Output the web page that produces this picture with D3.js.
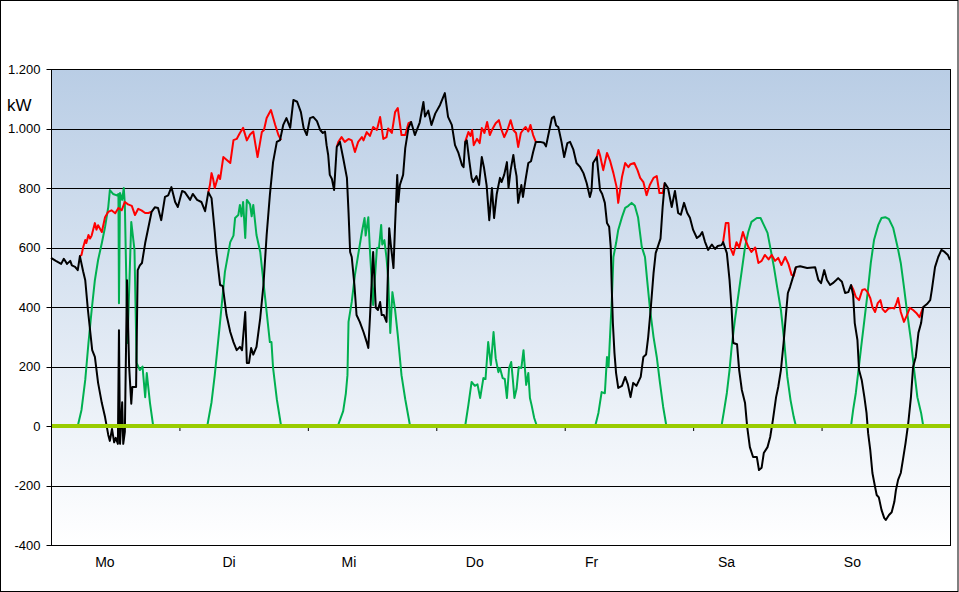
<!DOCTYPE html>
<html><head><meta charset="utf-8">
<script src="https://cdn.jsdelivr.net/npm/d3@7/dist/d3.min.js"></script>
<style>body{margin:0;background:#fff}svg{display:block;font-family:"Liberation Sans",Arial,sans-serif}</style>
</head><body><svg id="c" width="959" height="592"></svg>
<script>
// time in hours from Monday 00:00, value in kW
const dayLabels = ["Mo","Di","Mi","Do","Fr","Sa","So"];
const dayLabelPos = [0.42,1.386,2.32,3.30,4.21,5.26,6.24]; // in days
const yTicks = [-400,-200,0,200,400,600,800,1000,1200];

const netHours = [0,0.9,1.9,2.4,3.0,3.6,3.9,4.5,5.0,5.4,6.0,6.4,6.9,7.7,8.2,8.8,9.5,10.1,10.7,11.0,11.4,11.8,12.1,12.5,12.7,12.9,13.3,13.5,13.8,14.2,14.6,15.0,15.2,15.9,16.2,16.6,17.0,17.6,18.1,18.8,19.4,20.0,20.6,21.3,21.9,22.5,23.2,23.7,24.5,25.0,26.0,26.5,27.3,28.1,28.8,29.4,30.0,30.6,30.9,31.6,32.1,32.8,33.5,34.1,34.7,35.3,35.7,36.3,36.6,37.0,37.4,37.8,38.4,39.1,39.7,40.3,40.9,41.5,42.2,42.8,43.4,44.0,44.7,45.3,46.0,46.7,47.2,47.8,48.4,49.0,49.7,50.3,50.8,51.2,51.5,51.8,52.1,52.5,52.9,53.4,54.0,54.6,55.3,55.6,55.9,56.2,56.7,57.1,57.7,58.4,59.0,59.3,59.6,60.2,60.7,61.1,61.5,61.8,62.2,62.7,63.2,63.5,64.0,64.3,64.7,64.9,65.2,65.8,66.2,66.8,67.3,68.0,68.9,69.6,69.9,70.5,71.1,71.8,72.7,73.6,74.2,74.9,75.5,76.1,76.8,77.1,77.4,77.7,78.2,78.6,78.9,79.5,80.0,80.5,80.9,81.4,81.9,82.4,82.8,83.3,83.9,84.2,84.7,85.2,85.5,85.9,86.4,86.7,87.0,87.3,87.9,88.2,88.7,89.2,89.7,90.1,90.6,91.4,92.1,92.5,92.9,93.6,94.0,94.4,94.8,95.4,95.9,96.5,97.0,97.6,98.2,98.9,99.5,100.1,100.7,101.0,101.3,102.0,102.6,103.0,103.5,103.9,104.3,104.6,104.8,105.0,105.3,105.6,106.0,106.7,107.3,107.8,108.3,108.8,109.4,110.2,110.7,111.2,111.6,112.1,112.6,113.0,113.5,113.9,114.3,114.7,115.3,116.0,116.6,117.2,117.7,118.3,118.9,119.4,120.0,120.7,121.3,121.7,122.2,122.8,123.5,124.1,124.6,125.3,125.6,126.3,126.8,127.2,127.5,128.2,128.6,129.1,129.7,130.1,130.6,131.2,131.9,132.3,132.8,133.2,133.9,134.4,134.9,135.5,135.9,136.4,136.9,137.3,137.7,138.1,138.6,139.2,140.0,141.3,142.8,143.4,143.9,144.5,145.0,145.6,146.1,146.7,147.1,147.8,148.4,149.0,149.5,149.9,150.2,150.7,151.0,151.5,152.0,152.4,152.7,153.1,153.5,154.0,154.3,154.7,155.2,155.7,156.0,156.6,157.1,157.6,157.9,158.3,158.8,159.2,159.7,160.2,160.7,161.1,161.6,162.1,162.6,163.0,163.7,164.3,164.6,165.2,165.8,166.4,167.0,167.6,168.0];
const netKW = [565,555,545,562,545,555,540,535,524,571,520,490,390,255,232,145,77,30,-30,-50,-10,-55,-40,-60,322,-60,80,-60,-20,490,200,75,131,131,524,540,548,615,659,720,735,733,692,770,775,803,753,736,790,786,760,780,760,753,722,786,766,652,585,474,470,373,316,282,255,266,255,383,212,212,262,240,266,363,474,642,776,887,955,961,1012,1035,1002,1096,1090,1055,1002,978,1035,1039,1025,995,985,990,944,911,844,830,793,938,955,901,834,719,585,568,474,373,350,316,282,262,363,585,397,390,417,373,373,350,665,610,531,676,844,753,810,844,934,1002,1022,978,1020,1089,1040,1060,1012,1050,1079,1119,1039,1012,944,920,877,870,955,960,887,834,820,840,810,904,870,810,692,800,699,780,834,820,845,887,800,860,911,870,840,750,810,770,830,884,890,921,955,955,952,940,975,1035,1040,1010,1005,955,904,951,955,930,884,870,850,817,770,790,884,904,793,780,750,682,670,602,457,346,245,178,128,135,165,140,97,145,135,165,232,240,299,400,514,581,608,630,736,817,800,736,790,716,710,750,716,700,659,632,640,652,620,592,610,595,605,608,618,581,491,390,279,275,188,121,77,-3,-71,-104,-104,-148,-140,-91,-71,-37,20,97,131,188,279,366,447,467,497,534,537,531,534,491,480,524,491,474,480,490,497,485,447,450,474,440,346,289,188,155,97,44,-24,-81,-158,-205,-232,-240,-282,-309,-316,-299,-290,-255,-215,-181,-158,-114,-57,10,97,198,232,313,346,400,410,423,457,534,568,592,585,575,558];

// total consumption, only where it differs from the net line (null = gap)
const loadHours = [5.4,5.7,6.0,6.4,6.6,7.0,7.3,7.6,8.2,8.5,8.8,9.5,10.1,10.7,11.3,12.0,12.6,13.2,13.8,14.4,15.1,15.7,16.3,16.9,17.6,18.2,18.8,null,
29.4,29.7,30.0,30.3,30.6,31.3,31.6,32.2,32.8,33.5,34.1,34.7,35.3,35.9,36.6,37.2,37.8,38.6,39.4,39.8,40.3,41.1,41.9,42.5,43.0,null,
53.4,53.7,54.3,54.9,55.6,56.2,56.8,57.4,58.1,58.4,59.0,59.6,60.2,60.9,61.5,62.1,62.7,63.0,63.7,64.3,64.8,65.5,66.2,66.8,67.3,null,
77.4,78.0,78.4,78.7,79.0,79.6,80.1,80.5,81.0,81.5,82.0,82.4,83.1,83.7,84.2,84.7,85.3,85.9,86.4,86.9,87.3,87.8,88.2,88.7,89.2,89.6,90.1,90.6,null,
102.0,102.3,102.6,103.2,103.9,104.5,105.1,105.7,106.0,106.7,107.3,107.9,108.3,109.0,109.6,110.1,110.7,111.3,111.9,112.6,113.2,113.7,114.3,114.7,null,
125.6,126.1,126.6,126.9,127.5,128.1,128.6,129.3,129.7,130.3,130.9,131.6,132.2,132.8,133.4,134.1,134.7,135.3,135.9,136.5,137.2,137.8,138.4,138.8,139.2,null,
149.5,149.9,150.4,151.0,151.6,152.1,152.6,153.1,153.5,154.0,154.5,155.0,155.4,155.9,156.5,157.1,157.6,158.0,158.3,158.8,159.4,159.9,160.5,161.1,161.7,162.3,163.0];
const loadKW = [571,575,600,625,615,642,630,640,682,660,675,652,702,720,725,715,733,725,753,745,740,709,730,725,716,716,720,null,
786,810,850,830,800,843,830,904,895,884,961,965,985,1002,960,980,990,904,988,995,1035,1062,1012,978,961,null,
938,955,971,955,965,960,921,955,971,960,988,975,1005,995,1039,965,971,1000,985,1055,1069,978,978,1018,1022,null,
955,988,975,995,944,965,951,1002,985,1022,978,995,1018,1028,995,971,995,1028,995,985,938,985,995,1005,990,1012,978,955,null,
904,928,910,860,918,890,850,803,750,837,884,870,880,884,860,834,820,776,810,834,840,783,783,817,null,
618,682,682,602,575,618,600,652,630,602,585,600,548,555,575,560,575,555,565,541,568,545,508,505,534,null,
474,460,434,423,457,460,450,430,400,383,413,423,393,383,395,397,395,413,430,383,350,370,397,390,380,366,400];

// PV generation
const pvHours = [0,5.0,5.7,6.4,7.0,7.6,8.2,8.8,9.5,10.1,10.7,11.0,11.6,12.3,12.6,12.7,12.9,13.3,13.6,13.8,14.3,15.0,15.6,16.0,16.6,17.1,17.6,17.9,18.5,19.1,
29.2,30.0,30.6,31.6,32.5,33.5,34.1,34.4,35.0,35.3,35.6,35.9,36.3,36.6,37.2,37.5,37.8,38.4,39.1,39.7,40.3,40.9,41.2,41.5,42.2,43.0,
53.6,54.6,55.1,55.4,55.6,56.2,56.8,57.4,58.1,58.6,58.8,59.3,59.6,60.2,60.9,61.3,61.7,61.9,62.3,62.7,63.0,63.4,63.8,64.3,64.8,65.5,66.2,67.1,
77.4,78.0,78.6,79.2,79.7,80.2,80.8,81.2,81.7,82.2,82.7,83.1,83.6,83.9,84.4,84.8,85.2,85.6,86.0,86.3,86.6,87.0,87.4,87.9,88.3,88.8,89.2,89.5,89.8,90.3,90.8,
101.7,102.3,102.9,103.5,103.9,104.2,104.5,104.8,105.1,105.6,106.0,106.7,107.3,107.9,108.5,109.1,109.7,110.4,111.0,111.4,111.9,112.6,113.2,113.8,114.4,115.0,
125.3,125.8,126.3,126.8,127.2,127.8,128.5,129.1,129.7,130.3,130.9,131.9,132.6,133.2,133.9,134.5,135.1,135.7,136.4,137.0,137.6,138.2,138.8,139.2,
149.5,149.9,150.4,150.9,151.4,152.0,152.6,153.2,153.8,154.6,155.2,155.9,156.6,157.4,158.2,158.8,159.4,160.0,160.7,161.3,161.9,162.6,163.0,168];
const pvKW = [0,0,54,155,279,390,490,558,615,669,736,793,780,775,780,413,783,760,800,745,279,686,592,212,188,200,97,178,77,0,
0,80,171,350,518,618,640,699,709,743,705,753,632,760,745,705,743,642,585,484,383,282,282,195,90,0,
0,50,110,171,350,417,508,575,652,699,640,702,590,407,598,600,676,610,625,565,500,313,450,390,306,171,90,0,
0,71,148,135,140,94,161,158,282,205,316,228,181,195,161,158,94,195,215,158,94,125,198,195,255,138,178,94,71,27,0,
0,44,114,110,232,200,313,423,568,615,659,702,733,740,750,740,702,602,568,491,400,299,232,145,64,0,
0,54,111,188,266,356,447,524,602,652,686,699,699,676,649,592,534,467,390,289,165,87,30,0,
0,54,111,188,266,356,447,548,625,676,699,702,695,665,602,548,467,380,289,188,97,44,0,0];

const W = 959, H = 592;
const m = {left: 51, right: 950, top: 69, bottom: 545};
const svg = d3.select("#c");

const x = d3.scaleLinear().domain([0, 168]).range([m.left, m.right]);
const y = d3.scaleLinear().domain([-400, 1200]).range([m.bottom, m.top]);

// outer frame
svg.append("rect").attr("x", 0.5).attr("y", 0.5).attr("width", W - 1.5).attr("height", H - 1)
  .attr("fill", "#fff").attr("stroke", "#000").attr("stroke-width", 1);

// plot background gradient
const defs = svg.append("defs");
const grad = defs.append("linearGradient").attr("id", "bg").attr("x1", 0).attr("y1", 0).attr("x2", 0).attr("y2", 1);
grad.append("stop").attr("offset", "0%").attr("stop-color", "#b9cde5");
grad.append("stop").attr("offset", "100%").attr("stop-color", "#ffffff");
svg.append("rect").attr("x", m.left).attr("y", m.top).attr("width", m.right - m.left).attr("height", m.bottom - m.top)
  .attr("fill", "url(#bg)");

// gridlines
svg.append("g").selectAll("line").data(yTicks.filter(v => v !== 0)).join("line")
  .attr("x1", m.left).attr("x2", m.right)
  .attr("y1", d => Math.round(y(d)) + 0.5).attr("y2", d => Math.round(y(d)) + 0.5)
  .attr("stroke", "#000").attr("stroke-width", 1);

// y axis
const fmt = d3.formatLocale({decimal: ",", thousands: ".", grouping: [3], currency: ["", "€"], minus: "-"}).format(",d");
const yAxis = svg.append("g").attr("transform", `translate(${m.left + 0.5},0)`)
  .call(d3.axisLeft(y).tickValues(yTicks).tickFormat(fmt).tickSize(5).tickPadding(6).offset(0));
yAxis.select(".domain").remove();
yAxis.selectAll(".tick line").attr("stroke", "#000").attr("transform", d => `translate(0,${Math.round(y(d)) + 0.5 - y(d)})`);
yAxis.selectAll(".tick text").attr("font-size", 13).attr("fill", "#000").attr("font-family", "Liberation Sans, Arial, sans-serif")
  .attr("dy", "0.35em");

// kW label
svg.append("text").attr("x", 7).attr("y", 111).attr("font-size", 17).attr("fill", "#000").text("kW");

// day tick marks on zero line
const xAxis = svg.append("g").attr("transform", `translate(0,${Math.round(y(0)) + 2})`)
  .call(d3.axisBottom(x).tickValues([24, 48, 72, 96, 120, 144]).tickSize(3).tickFormat(""));
xAxis.select(".domain").remove();
xAxis.selectAll(".tick line").attr("stroke", "#000");

// day labels
svg.append("g").selectAll("text").data(dayLabels).join("text")
  .attr("x", (d, i) => x(dayLabelPos[i] * 24)).attr("y", 567)
  .attr("text-anchor", "middle").attr("font-size", 14).attr("fill", "#000").text(d => d);

// series
const gLines = svg.append("g");
const line = d3.line().defined(d => d[0] !== null && d[1] !== null).x(d => x(d[0])).y(d => y(d[1]));
const pv = pvHours.map((h, i) => [h, pvKW[i]]);
const load = loadHours.map((h, i) => [h, loadKW[i]]);
const net = netHours.map((h, i) => [h, netKW[i]]);

gLines.append("path").datum(pv).attr("d", line).attr("fill", "none").attr("stroke", "#00b050").attr("stroke-width", 2).attr("stroke-linejoin", "round");
gLines.append("path").datum(load).attr("d", line).attr("fill", "none").attr("stroke", "#ff0000").attr("stroke-width", 2).attr("stroke-linejoin", "round");
gLines.append("path").datum(net).attr("d", line).attr("fill", "none").attr("stroke", "#000000").attr("stroke-width", 2).attr("stroke-linejoin", "round");

// zero line
svg.append("line").attr("x1", m.left).attr("x2", m.right).attr("y1", y(0)).attr("y2", y(0))
  .attr("stroke", "#99cc00").attr("stroke-width", 4);

// plot border
svg.append("rect").attr("x", m.left + 0.5).attr("y", m.top + 0.5).attr("width", m.right - m.left).attr("height", m.bottom - m.top)
  .attr("fill", "none").attr("stroke", "#000").attr("stroke-width", 1);
</script></body></html>
